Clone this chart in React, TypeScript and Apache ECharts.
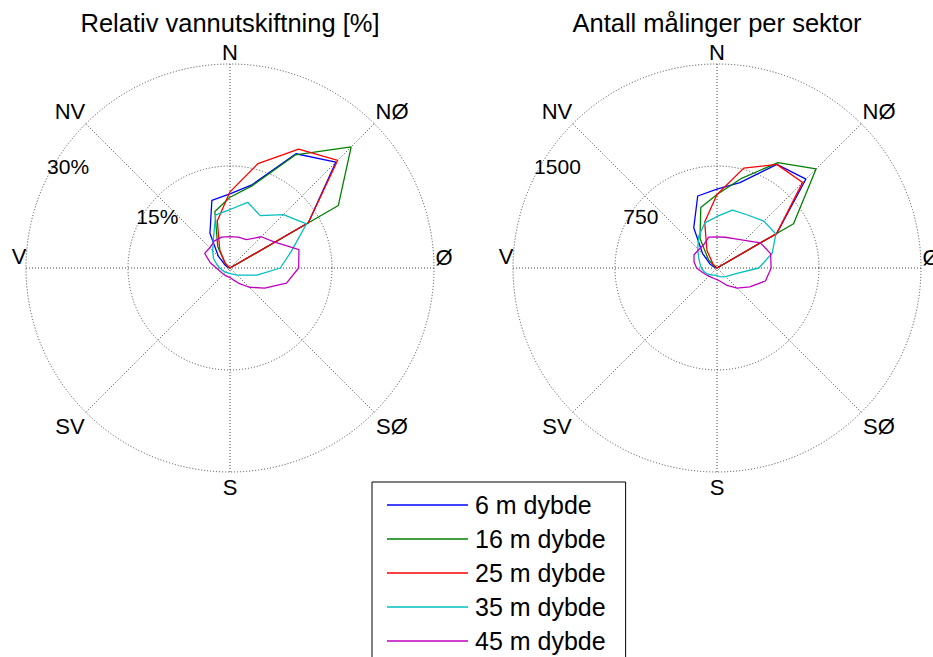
import React, { useEffect, useRef } from 'react';
import * as echarts from 'echarts';

// Sector centres (compass degrees, clockwise from north)
const SECTOR_ANGLES = [0, 15, 30, 45, 60, 75, 90, 105, 120, 135, 150, 165, 180, 195, 210, 225, 240, 255, 270, 285, 300, 315, 330, 345];

const DEPTHS = ['6 m dybde', '16 m dybde', '25 m dybde', '35 m dybde', '45 m dybde'];
const COLORS = ['#0000ff', '#008000', '#ff0000', '#00bfbf', '#bf00bf'];

// Relative water exchange per sector [%]
const exch6 = [10.9, 12.7, 19.4, 22.0, 13.3, 0, 0, 0, 0, 0, 0, 0, 0, 0, 0, 0, 0, 0, 0, 0.3, 0.8, 2.4, 5.9, 10.3];
const exch16 = [10.4, 12.5, 19.2, 25.2, 18.4, 0, 0, 0, 0, 0, 0, 0, 0, 0, 0, 0, 0, 0, 0, 0, 0.3, 1.0, 3.6, 8.6];
const exch25 = [11.2, 15.9, 20.2, 22.4, 13.3, 0, 0, 0, 0, 0, 0, 0, 0, 0, 0, 0, 0, 0, 0, 0, 0, 1.0, 3.0, 7.2];
const exch35 = [8.6, 10.0, 8.9, 11.1, 13.0, 9.3, 7.4, 4.1, 2.1, 1.5, 1.1, 0.9, 0.8, 0.8, 0.8, 0.9, 1.0, 1.2, 1.5, 2.0, 2.8, 3.6, 4.9, 8.1];
const exch45 = [4.6, 4.7, 4.8, 6.5, 7.6, 10.5, 10.1, 8.6, 5.9, 4.0, 2.6, 1.8, 1.4, 1.3, 1.3, 1.3, 1.4, 1.6, 2.0, 3.0, 4.3, 4.2, 4.6, 4.7];

// Number of measurements per sector
const count6 = [580, 650, 880, 925, 506, 0, 0, 0, 0, 0, 0, 0, 0, 0, 0, 0, 0, 0, 0, 20, 60, 150, 342, 548];
const count16 = [540, 680, 895, 1030, 650, 0, 0, 0, 0, 0, 0, 0, 0, 0, 0, 0, 0, 0, 0, 0, 20, 90, 250, 460];
const count25 = [540, 760, 880, 890, 506, 0, 0, 0, 0, 0, 0, 0, 0, 0, 0, 0, 0, 0, 0, 0, 0, 40, 148, 350];
const count35 = [379, 440, 450, 487, 500, 420, 307, 152, 110, 90, 75, 65, 55, 55, 60, 70, 85, 100, 115, 130, 156, 200, 270, 344];
const count45 = [229, 234, 250, 288, 369, 408, 398, 369, 278, 209, 148, 103, 86, 80, 80, 85, 95, 115, 150, 175, 195, 190, 197, 235];

const EXCH_SERIES = [exch6, exch16, exch25, exch35, exch45];
const COUNT_SERIES = [count6, count16, count25, count35, count45];

const EXCH_MAX = 30;
const EXCH_STEP = 15;
const EXCH_TICKS = [15, 30];
const COUNT_MAX = 1500;
const COUNT_STEP = 750;
const COUNT_TICKS = [750, 1500];

const TITLES = ['Relativ vannutskiftning [%]', 'Antall målinger per sektor'];
const DIRECTIONS = ['N', 'NØ', 'Ø', 'SØ', 'S', 'SV', 'V', 'NV'];

// Layout of the two compass roses
const CENTERS: [number, number][] = [[230, 268], [717, 268]];
const R = 204;
const FONT = '"Liberation Sans", Arial, sans-serif';

// Label offsets from the rose centre for each compass direction
const DIR_OFFSETS: [number, number][] = [
  [0, -216], [162, -157], [214, -11], [162, 158],
  [0, 219], [-160, 158], [-211, -12], [-160, -157],
];

const dotted = { color: '#444', width: 1, type: [1, 2] as number[] };

function closedRing(values: number[]) {
  const pts = SECTOR_ANGLES.map((a, i) => [values[i], a]);
  pts.push([values[0], 360]);
  return pts;
}

function buildOption() {
  const polar = CENTERS.map((c) => ({ center: c, radius: R }));
  const angleAxis = CENTERS.map((_, i) => ({
    polarIndex: i,
    type: 'value',
    min: 0,
    max: 360,
    interval: 45,
    startAngle: 90,
    clockwise: true,
    axisLine: { show: false },
    axisTick: { show: false },
    axisLabel: { show: false },
    splitLine: { show: true, lineStyle: dotted },
  }));
  const radiusAxis = [
    { polarIndex: 0, type: 'value', min: 0, max: EXCH_MAX, interval: EXCH_STEP },
    { polarIndex: 1, type: 'value', min: 0, max: COUNT_MAX, interval: COUNT_STEP },
  ].map((ax) => ({
    ...ax,
    axisLine: { show: false },
    axisTick: { show: false },
    axisLabel: { show: false },
    splitLine: { show: true, lineStyle: dotted },
  }));

  const series: any[] = [];
  [EXCH_SERIES, COUNT_SERIES].forEach((group, p) => {
    group.forEach((vals, k) => {
      series.push({
        type: 'line',
        name: DEPTHS[k],
        coordinateSystem: 'polar',
        polarIndex: p,
        data: closedRing(vals),
        symbol: 'none',
        showSymbol: false,
        lineStyle: { color: COLORS[k], width: 1.3 },
        itemStyle: { color: COLORS[k] },
        z: 3,
      });
    });
  });

  const graphic: any[] = [];
  const addText = (text: string, x: number, y: number, size: number, align = 'center') => {
    graphic.push({
      type: 'text',
      x,
      y,
      z: 10,
      style: {
        text,
        fill: '#000',
        font: `${size}px ${FONT}`,
        fontSize: size,
        fontFamily: FONT,
        align,
        textAlign: align,
        verticalAlign: 'middle',
        textVerticalAlign: 'middle',
      },
    });
  };

  CENTERS.forEach(([cx, cy], i) => {
    addText(TITLES[i], cx, 23, 25.5);
    DIRECTIONS.forEach((d, j) => addText(d, cx + DIR_OFFSETS[j][0], cy + DIR_OFFSETS[j][1], 22));
    const ticks = i === 0 ? EXCH_TICKS : COUNT_TICKS;
    const max = i === 0 ? EXCH_MAX : COUNT_MAX;
    const ang = (299 * Math.PI) / 180;
    ticks.forEach((t) => {
      const rr = ((t + max / 40) / max) * R;
      addText(i === 0 ? `${t}%` : `${t}`, cx + rr * Math.sin(ang), cy - rr * Math.cos(ang), 21, 'left');
    });
  });

  return {
    animation: false,
    backgroundColor: '#fff',
    polar,
    angleAxis,
    radiusAxis,
    series,
    legend: {
      data: DEPTHS,
      orient: 'vertical',
      left: 372,
      top: 482,
      height: 400,
      padding: [10, 20, 40, 15],
      icon: 'rect',
      itemWidth: 81,
      itemHeight: 1.4,
      itemGap: 8,
      borderColor: '#000',
      borderWidth: 1,
      backgroundColor: '#fff',
      selectedMode: false,
      textStyle: { fontSize: 25, fontFamily: FONT, color: '#000', lineHeight: 26, padding: [0, 0, 0, 2] },
    },
    graphic,
  };
}

export default function App() {
  const ref = useRef<HTMLDivElement>(null);
  useEffect(() => {
    const chart = echarts.init(ref.current!, null, { renderer: 'svg' });
    chart.setOption(buildOption() as any);
    return () => chart.dispose();
  }, []);
  return (
    <div
      ref={ref}
      style={{ position: 'absolute', left: 0, top: 0, width: 933, height: 657, background: '#fff' }}
    />
  );
}
